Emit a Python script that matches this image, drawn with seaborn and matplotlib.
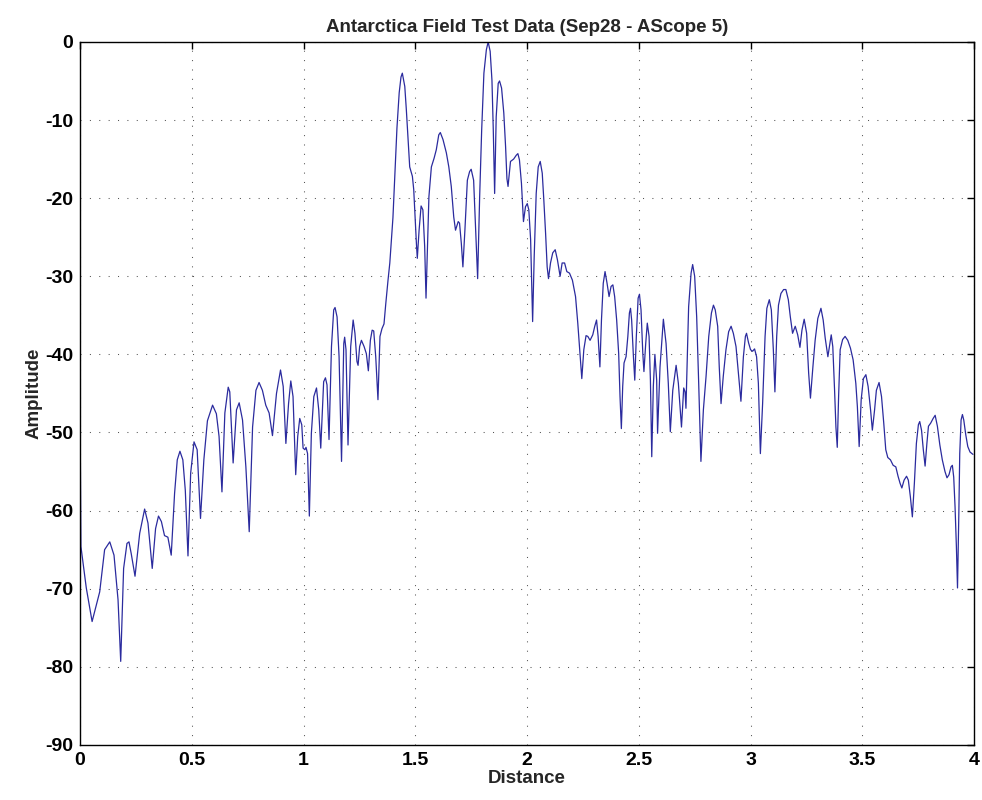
import matplotlib
matplotlib.use("Agg")
import matplotlib.pyplot as plt
import pandas as pd
import seaborn as sns

# A-scope trace: distance along the profile and received amplitude (dB)
distance = [
    0.000, 0.0015, 0.004, 0.028, 0.054, 0.088, 0.110, 0.133, 0.152, 0.170,
    0.182, 0.195, 0.210, 0.219, 0.229, 0.246, 0.267, 0.289, 0.304, 0.323,
    0.338, 0.351, 0.364, 0.378, 0.393, 0.408, 0.423, 0.435, 0.447, 0.460,
    0.471, 0.483, 0.495, 0.510, 0.524, 0.539, 0.554, 0.570, 0.593, 0.610,
    0.622, 0.635, 0.648, 0.663, 0.670, 0.685, 0.700, 0.712, 0.727, 0.742,
    0.757, 0.772, 0.787, 0.801, 0.816, 0.831, 0.846, 0.861, 0.879, 0.897,
    0.909, 0.921, 0.933, 0.943, 0.953, 0.965, 0.974, 0.983, 0.992, 0.998,
    1.006, 1.011, 1.018, 1.026, 1.035, 1.046, 1.058, 1.068, 1.077, 1.090,
    1.098, 1.105, 1.114, 1.125, 1.135, 1.141, 1.150, 1.159, 1.170, 1.180,
    1.184, 1.190, 1.199, 1.211, 1.222, 1.230, 1.239, 1.244, 1.251, 1.259,
    1.271, 1.281, 1.290, 1.299, 1.307, 1.314, 1.323, 1.333, 1.342, 1.351,
    1.360, 1.368, 1.378, 1.386, 1.393, 1.400, 1.408, 1.418, 1.428, 1.436,
    1.442, 1.453, 1.460, 1.468, 1.475, 1.487, 1.493, 1.499, 1.505, 1.509,
    1.517, 1.526, 1.534, 1.542, 1.548, 1.561, 1.572, 1.584, 1.594, 1.605,
    1.612, 1.624, 1.639, 1.650, 1.661, 1.672, 1.680, 1.692, 1.698, 1.706,
    1.713, 1.722, 1.733, 1.743, 1.750, 1.761, 1.770, 1.779, 1.788, 1.797,
    1.807, 1.818, 1.826, 1.835, 1.843, 1.849, 1.855, 1.862, 1.871, 1.877,
    1.886, 1.896, 1.904, 1.910, 1.915, 1.926, 1.940, 1.952, 1.959, 1.966,
    1.975, 1.984, 1.993, 2.001, 2.008, 2.016, 2.025, 2.032, 2.041, 2.050,
    2.059, 2.068, 2.075, 2.083, 2.090, 2.096, 2.105, 2.115, 2.126, 2.136,
    2.148, 2.157, 2.168, 2.178, 2.190, 2.203, 2.217, 2.227, 2.238, 2.245,
    2.254, 2.264, 2.272, 2.282, 2.294, 2.303, 2.311, 2.318, 2.326, 2.333,
    2.341, 2.349, 2.358, 2.367, 2.376, 2.384, 2.392, 2.401, 2.410, 2.416,
    2.422, 2.428, 2.434, 2.443, 2.451, 2.458, 2.463, 2.468, 2.476, 2.482,
    2.489, 2.497, 2.503, 2.510, 2.518, 2.523, 2.531, 2.538, 2.546, 2.552,
    2.558, 2.565, 2.572, 2.580, 2.584, 2.595, 2.610, 2.622, 2.632, 2.641,
    2.652, 2.667, 2.677, 2.691, 2.701, 2.707, 2.711, 2.723, 2.734, 2.741,
    2.750, 2.759, 2.768, 2.778, 2.789, 2.801, 2.813, 2.825, 2.834, 2.842,
    2.853, 2.860, 2.868, 2.878, 2.890, 2.902, 2.913, 2.923, 2.935, 2.947,
    2.957, 2.968, 2.977, 2.982, 2.991, 3.000, 3.009, 3.018, 3.027, 3.035,
    3.044, 3.054, 3.065, 3.073, 3.084, 3.093, 3.102, 3.109, 3.117, 3.125,
    3.136, 3.148, 3.158, 3.169, 3.178, 3.188, 3.200, 3.211, 3.221, 3.230,
    3.240, 3.251, 3.260, 3.268, 3.279, 3.289, 3.301, 3.315, 3.325, 3.334,
    3.346, 3.353, 3.361, 3.368, 3.376, 3.382, 3.388, 3.394, 3.401, 3.412,
    3.423, 3.435, 3.447, 3.459, 3.471, 3.478, 3.486, 3.495, 3.505, 3.516,
    3.526, 3.537, 3.545, 3.555, 3.563, 3.575, 3.586, 3.596, 3.605, 3.614,
    3.626, 3.638, 3.650, 3.660, 3.669, 3.677, 3.687, 3.698, 3.706, 3.715,
    3.724, 3.733, 3.742, 3.751, 3.757, 3.765, 3.773, 3.781, 3.789, 3.796,
    3.806, 3.817, 3.826, 3.836, 3.847, 3.858, 3.870, 3.879, 3.888, 3.897,
    3.903, 3.909, 3.915, 3.921, 3.926, 3.932, 3.936, 3.942, 3.948, 3.954,
    3.963, 3.972, 3.982, 3.995,
]
amplitude = [
    -85.7, -53.5, -64.6, -69.9, -74.2, -70.4, -65.0, -64.0, -65.7, -71.4,
    -79.3, -67.4, -64.2, -64.0, -65.5, -68.4, -62.9, -59.8, -61.6, -67.4,
    -62.3, -60.7, -61.4, -63.2, -63.4, -65.7, -57.8, -53.5, -52.4, -53.5,
    -57.4, -65.8, -55.2, -51.2, -52.2, -61.0, -53.5, -48.5, -46.5, -47.6,
    -50.5, -57.6, -47.5, -44.2, -44.8, -53.9, -47.1, -46.2, -48.4, -54.4,
    -62.7, -49.3, -44.6, -43.6, -44.6, -46.5, -47.5, -50.4, -45.0, -42.0,
    -44.1, -51.4, -46.3, -43.4, -45.4, -55.4, -50.5, -48.2, -49.0, -52.0,
    -52.2, -51.9, -52.7, -60.7, -50.1, -45.4, -44.3, -47.1, -52.0, -43.5,
    -43.0, -43.9, -50.9, -39.0, -34.3, -34.0, -35.2, -40.3, -53.7, -38.6,
    -37.8, -39.4, -51.6, -39.0, -35.6, -37.3, -40.9, -41.4, -39.0, -38.2,
    -39.0, -39.9, -42.1, -38.2, -36.9, -37.0, -40.3, -45.8, -37.7, -36.7,
    -36.1, -33.5, -30.5, -28.3, -25.3, -22.5, -17.5, -11.0, -6.5, -4.5,
    -4.0, -5.7, -8.7, -12.5, -16.0, -17.2, -18.9, -22.4, -25.8, -27.7,
    -24.1, -21.0, -21.5, -26.2, -32.8, -19.8, -16.0, -14.9, -13.8, -11.9,
    -11.6, -12.5, -14.2, -16.0, -18.5, -22.4, -24.1, -23.0, -23.2, -25.8,
    -28.8, -24.1, -17.7, -16.6, -16.3, -17.7, -24.1, -30.3, -19.8, -11.3,
    -4.0, -1.0, 0.0, -1.2, -4.9, -11.3, -19.4, -9.6, -5.3, -5.0,
    -5.9, -9.1, -13.4, -17.5, -18.5, -15.3, -15.0, -14.5, -14.3, -15.1,
    -18.1, -23.0, -21.1, -20.7, -21.5, -25.3, -35.8, -27.5, -19.4, -16.0,
    -15.3, -16.8, -20.2, -24.5, -28.8, -30.3, -28.3, -27.0, -26.6, -27.9,
    -30.0, -28.3, -28.3, -29.4, -29.6, -30.5, -32.6, -36.0, -40.3, -43.1,
    -39.4, -37.6, -37.7, -38.2, -37.5, -36.4, -35.6, -37.7, -41.6, -35.6,
    -30.9, -29.4, -30.9, -32.6, -31.3, -31.1, -32.6, -35.6, -39.9, -45.4,
    -49.5, -44.1, -41.1, -40.3, -37.7, -34.7, -34.1, -35.6, -40.3, -43.3,
    -37.7, -32.8, -32.3, -34.3, -39.9, -42.2, -38.6, -36.0, -37.7, -43.3,
    -53.1, -44.1, -40.0, -43.3, -50.1, -41.6, -35.5, -38.6, -43.7, -49.9,
    -44.6, -41.4, -43.7, -49.3, -44.3, -44.8, -46.9, -33.9, -29.6, -28.5,
    -30.0, -35.2, -43.7, -53.7, -47.1, -42.8, -37.7, -34.7, -33.7, -34.3,
    -36.4, -41.6, -46.3, -42.8, -39.4, -37.1, -36.4, -37.3, -39.0, -42.8,
    -46.0, -40.3, -37.7, -37.3, -38.5, -39.4, -39.6, -39.3, -40.3, -43.7,
    -52.7, -46.3, -37.7, -34.1, -33.0, -34.3, -39.4, -44.8, -37.7, -33.7,
    -32.2, -31.7, -31.7, -33.0, -35.2, -37.3, -36.4, -37.5, -39.1, -36.9,
    -35.5, -37.3, -42.4, -45.6, -41.6, -38.2, -35.4, -34.1, -35.6, -37.9,
    -40.3, -39.0, -37.5, -39.0, -44.6, -49.3, -51.9, -45.4, -39.4, -38.1,
    -37.7, -38.2, -39.2, -40.7, -43.7, -46.7, -51.8, -45.8, -43.1, -42.6,
    -44.1, -47.1, -49.7, -47.1, -44.6, -43.6, -45.4, -48.8, -52.2, -53.2,
    -53.5, -54.2, -54.4, -55.6, -56.5, -57.1, -56.1, -55.6, -56.1, -58.2,
    -60.8, -56.5, -51.4, -49.0, -48.6, -49.7, -52.2, -54.3, -51.4, -49.2,
    -48.8, -48.2, -47.8, -49.2, -51.6, -53.5, -55.0, -55.8, -55.4, -54.4,
    -54.2, -55.7, -59.5, -64.6, -69.9, -60.3, -52.7, -48.4, -47.7, -48.4,
    -50.3, -51.8, -52.5, -52.8,
]

x_ticks = [0, 0.5, 1, 1.5, 2, 2.5, 3, 3.5, 4]
x_tick_labels = ["0", "0.5", "1", "1.5", "2", "2.5", "3", "3.5", "4"]
y_ticks = [-90, -80, -70, -60, -50, -40, -30, -20, -10, 0]
y_tick_labels = ["-90", "-80", "-70", "-60", "-50", "-40", "-30", "-20", "-10", "0"]

sns.set_style("white")
plt.rcParams["font.family"] = ["Liberation Sans", "DejaVu Sans"]
plt.rcParams["font.weight"] = "bold"

fig = plt.figure(figsize=(9.82, 8.0), dpi=100)
ax = fig.add_axes([0.0815, 0.0688, 0.9104, 0.8788])

trace = pd.DataFrame({"Distance": distance, "Amplitude": amplitude})
sns.lineplot(data=trace, x="Distance", y="Amplitude", estimator=None, sort=False,
             color="#2b2b9e", linewidth=0.9, ax=ax)

ax.set_xlim(0, 4)
ax.set_ylim(-90, 0)
ax.set_xticks(x_ticks)
ax.set_xticklabels(x_tick_labels)
ax.set_yticks(y_ticks)
ax.set_yticklabels(y_tick_labels)

ax.grid(True, linestyle=(0, (1, 8)), color="#555555", linewidth=0.75)
ax.set_axisbelow(True)

for side in ("top", "right", "bottom", "left"):
    ax.spines[side].set_visible(True)
    ax.spines[side].set_color("black")
    ax.spines[side].set_linewidth(1.0)

ax.tick_params(direction="in", length=5, width=1.0, top=True, right=True,
               labelsize=14, pad=5, colors="black")
for lab in ax.get_xticklabels() + ax.get_yticklabels():
    lab.set_fontweight("bold")

ax.set_xlabel("Distance", fontsize=13.5, fontweight="bold", labelpad=1)
ax.set_ylabel("Amplitude", fontsize=13.5, fontweight="bold", labelpad=2)
ax.set_title("Antarctica Field Test Data (Sep28 - AScope 5)", fontsize=13.5,
             fontweight="bold", pad=7)

fig.savefig("out.png", dpi=100)
